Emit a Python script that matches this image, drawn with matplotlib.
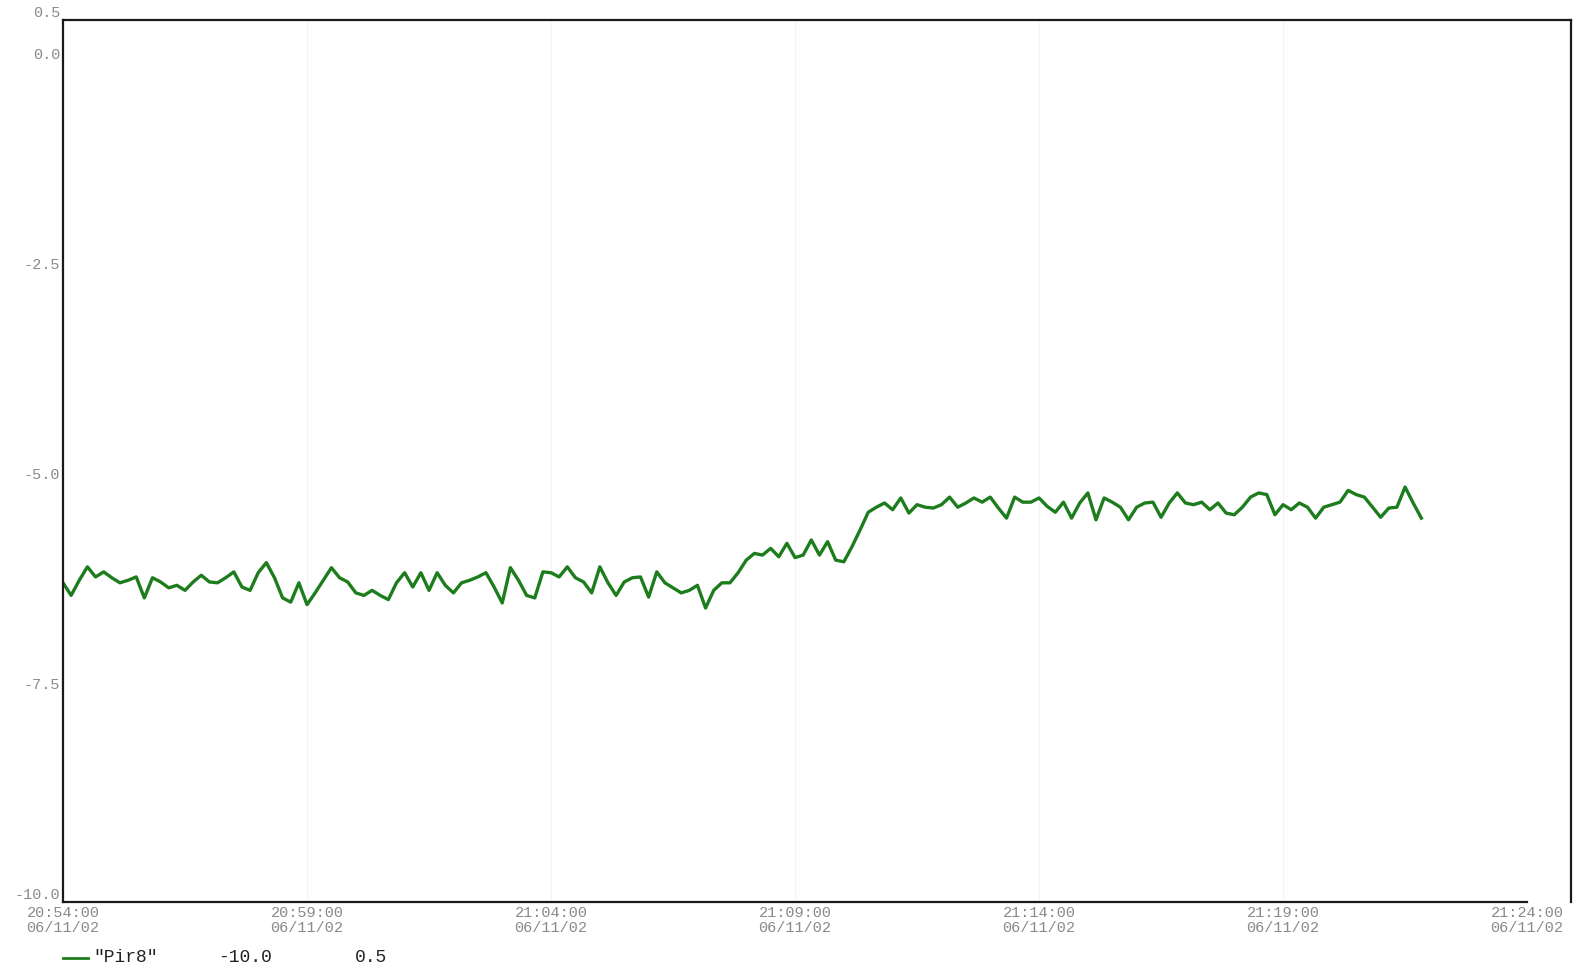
import matplotlib
matplotlib.use("Agg")
import matplotlib.pyplot as plt
import matplotlib.dates as mdates
from matplotlib.lines import Line2D
import numpy as np
import pandas as pd

# ---- data ----
series_name = '"Pir8"'
y_min, y_max = -10.0, 0.5
start_time = "2002-06-11 20:54:00"
sample_seconds = 10
values = [
    -6.20, -6.35, -6.17, -6.01, -6.13, -6.07, -6.14, -6.20, -6.17, -6.13,
    -6.38, -6.14, -6.19, -6.26, -6.23, -6.29, -6.19, -6.11, -6.19, -6.20,
    -6.14, -6.07, -6.25, -6.29, -6.08, -5.96, -6.14, -6.38, -6.43, -6.20,
    -6.46, -6.32, -6.17, -6.02, -6.14, -6.19, -6.32, -6.35, -6.29, -6.35,
    -6.40, -6.20, -6.08, -6.25, -6.08, -6.29, -6.08, -6.23, -6.32, -6.20,
    -6.17, -6.13, -6.08, -6.25, -6.44, -6.02, -6.17, -6.35, -6.38, -6.07,
    -6.08, -6.13, -6.01, -6.14, -6.19, -6.32, -6.01, -6.20, -6.35, -6.19,
    -6.14, -6.13, -6.37, -6.07, -6.20, -6.26, -6.32, -6.29, -6.23, -6.50,
    -6.29, -6.20, -6.20, -6.08, -5.93, -5.85, -5.87, -5.79, -5.89, -5.73,
    -5.90, -5.87, -5.69, -5.87, -5.71, -5.93, -5.95, -5.77, -5.57, -5.36,
    -5.30, -5.25, -5.33, -5.19, -5.37, -5.27, -5.30, -5.31, -5.27, -5.18,
    -5.30, -5.25, -5.19, -5.24, -5.18, -5.31, -5.43, -5.18, -5.24, -5.24,
    -5.19, -5.29, -5.36, -5.24, -5.43, -5.25, -5.13, -5.45, -5.19, -5.24,
    -5.30, -5.45, -5.30, -5.25, -5.24, -5.42, -5.25, -5.13, -5.25, -5.27,
    -5.24, -5.33, -5.25, -5.37, -5.39, -5.30, -5.18, -5.13, -5.15, -5.39,
    -5.27, -5.33, -5.25, -5.30, -5.43, -5.30, -5.27, -5.24, -5.10, -5.15,
    -5.18, -5.30, -5.42, -5.31, -5.30, -5.06, -5.25, -5.43,
]
y_ticks = [0.5, 0.0, -2.5, -5.0, -7.5, -10.0]
y_tick_labels = ["0.5", "0.0", "-2.5", "-5.0", "-7.5", "-10.0"]
x_tick_times = ["20:54:00", "20:59:00", "21:04:00", "21:09:00",
                "21:14:00", "21:19:00", "21:24:00"]
x_tick_date = "06/11/02"
date_str = "2002-06-11"

# ---- figure ----
FONT = ["Liberation Mono", "DejaVu Sans Mono"]
plt.rcParams["font.family"] = FONT

times = pd.date_range(start_time, periods=len(values), freq=f"{sample_seconds}s")

fig = plt.figure(figsize=(15.76, 9.64), dpi=100)
fig.patch.set_facecolor("white")
ax = fig.add_axes([63 / 1576, 62 / 964, (1571 - 63) / 1576, (902 - 20) / 964])

ax.plot(times, values, color="#1d7d1d", lw=2.4, solid_joinstyle="round")

t0 = pd.Timestamp(start_time)
t_end = pd.Timestamp(f"{date_str} {x_tick_times[-1]}")
x_right = t0 + (t_end - t0) * (1508 / 1464)
ax.set_xlim(t0, x_right)
ax.set_ylim(y_min, y_max)

tick_ts = [pd.Timestamp(f"{date_str} {t}") for t in x_tick_times]
ax.set_xticks(tick_ts)
ax.set_xticklabels([f"{t}\n{x_tick_date}" for t in x_tick_times],
                   fontsize=11, color="#8a8a8a", linespacing=1.1)
ax.tick_params(axis="x", length=0, pad=3)

ax.set_yticks(y_ticks)
ax.set_yticklabels(y_tick_labels, fontsize=11, color="#8a8a8a")
ax.tick_params(axis="y", length=0, pad=2)
for lab in ax.get_yticklabels():
    lab.set_verticalalignment("bottom")

for t in tick_ts[1:-1]:
    ax.axvline(t, color="#f5f5f5", lw=1, zorder=0)

for s in ax.spines.values():
    s.set_color("#1a1a1a")
    s.set_linewidth(1.6)
ax.spines["bottom"].set_bounds(mdates.date2num(t0), mdates.date2num(t_end))

# legend row
fig.add_artist(Line2D([63 / 1576, 88 / 1576], [1 - 958 / 964, 1 - 958 / 964],
                      color="#1d7d1d", lw=2.0, transform=fig.transFigure))
fig.text(93 / 1576, 1 - 958 / 964, series_name, fontsize=13, color="#222222",
         va="center", ha="left")
fig.text(218 / 1576, 1 - 958 / 964, f"{y_min:.1f}", fontsize=13, color="#222222",
         va="center", ha="left")
fig.text(355 / 1576, 1 - 958 / 964, f"{y_max:.1f}", fontsize=13, color="#222222",
         va="center", ha="left")

fig.savefig("out.png", dpi=100, facecolor="white")
